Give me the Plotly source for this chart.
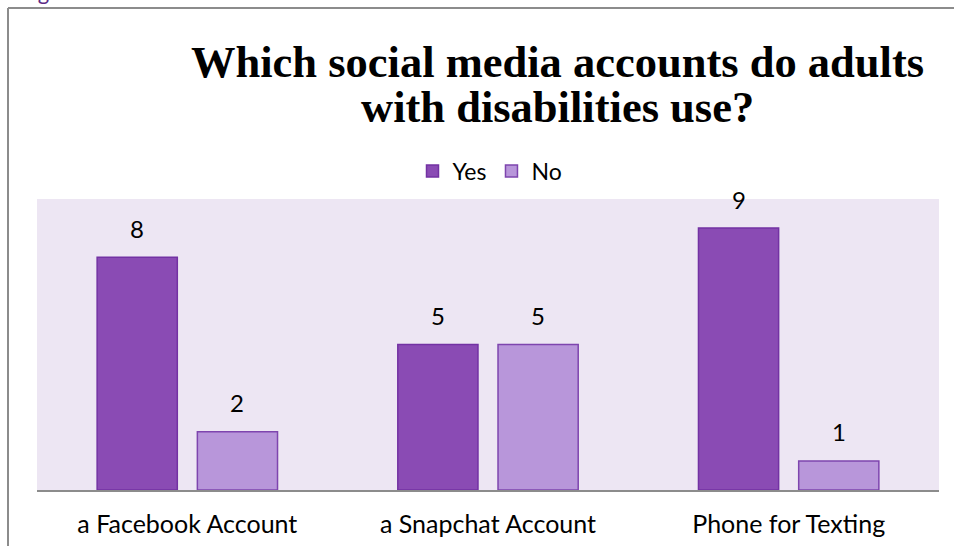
import plotly.graph_objects as go

categories = ["a Facebook Account", "a Snapchat Account", "Phone for Texting"]
yes_values = [8, 5, 9]
no_values = [2, 5, 1]
series_names = ["Yes", "No"]
title_lines = ["Which social media accounts do adults", "with disabilities use?"]

W, H = 954, 546
L, R, T, B = 37, 15, 199, 56
pw, ph = W - L - R, H - T - B
BODY_FONT = "Lato, Open Sans, sans-serif"

def px2paper_x(px):
    return (px - L) / pw

def px2paper_y(py):
    return (H - B - py) / ph

fig = go.Figure()
fig.add_trace(go.Bar(
    name=series_names[0], x=categories, y=yes_values,
    marker=dict(color="#8A4BB4", line=dict(color="#7332A3", width=1.5)),
))
fig.add_trace(go.Bar(
    name=series_names[1], x=categories, y=no_values,
    marker=dict(color="#B896DA", line=dict(color="#7E45AE", width=1.5)),
))

annotations = []
for vals, shift in ((yes_values, -50), (no_values, 50)):
    for c, v in zip(categories, vals):
        annotations.append(dict(
            x=c, y=v, xref="x", yref="y", text=str(v), showarrow=False,
            xshift=shift, yshift=29, font=dict(size=24, color="#000000", family=BODY_FONT),
            yanchor="middle",
        ))

for line, ypx in zip(title_lines, (62, 107)):
    annotations.append(dict(
        text="<b>" + line + "</b>", x=px2paper_x(557), y=px2paper_y(ypx),
        xref="paper", yref="paper", xanchor="center", yanchor="middle", showarrow=False,
        font=dict(family="Liberation Serif", size=44.5, color="#000000"),
    ))
annotations.append(dict(
    text="Figure 3", x=px2paper_x(18), y=px2paper_y(7), xref="paper", yref="paper",
    xanchor="left", yanchor="bottom", showarrow=False,
    font=dict(family=BODY_FONT, size=22, color="#5B2A86"),
))

shapes = [
    dict(type="line", xref="paper", yref="paper",
         x0=px2paper_x(8), x1=px2paper_x(954), y0=px2paper_y(8), y1=px2paper_y(8),
         line=dict(color="#8C8C8C", width=2)),
    dict(type="line", xref="paper", yref="paper",
         x0=px2paper_x(8), x1=px2paper_x(8), y0=px2paper_y(8), y1=px2paper_y(546),
         line=dict(color="#8C8C8C", width=2)),
]

fig.update_layout(
    width=W, height=H,
    margin=dict(l=L, r=R, t=T, b=B, pad=0, autoexpand=False),
    paper_bgcolor="white", plot_bgcolor="#EDE6F3",
    barmode="group", bargap=1/3, bargroupgap=0.2,
    showlegend=True,
    legend=dict(orientation="h", x=px2paper_x(490), xanchor="center",
                y=px2paper_y(171), yanchor="middle",
                font=dict(family=BODY_FONT, size=23, color="#000000"),
                itemwidth=30, bgcolor="rgba(0,0,0,0)"),
    xaxis=dict(showgrid=False, showline=True, linecolor="#8C8C8C", linewidth=2,
               automargin=False,
               ticks="", tickfont=dict(family=BODY_FONT, size=25, color="#000000"),
               ticklabelstandoff=11),
    yaxis=dict(range=[0, 10], showgrid=False, showticklabels=False, zeroline=False,
               showline=False, ticks="", automargin=False),
    annotations=annotations, shapes=shapes,
)

fig.write_html("out.html")
